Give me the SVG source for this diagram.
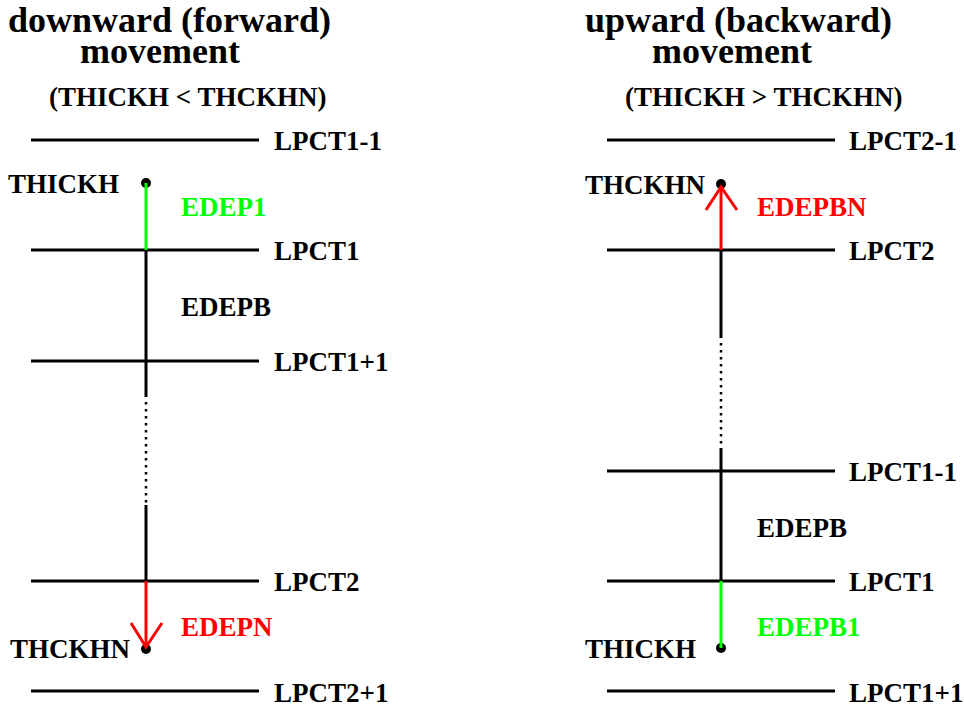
<svg xmlns="http://www.w3.org/2000/svg" width="964" height="708" viewBox="0 0 964 708">
  <style>
    text { font-family: "Liberation Serif", "Times New Roman", serif; font-weight: bold; fill: #000; }
    .title { font-size: 36px; }
    .cond { font-size: 27px; }
    .lbl { font-size: 27px; }
    .green { fill: #00ff00; }
    .red { fill: #ff0000; }
    .layer { stroke: #000; stroke-width: 3; fill: none; }
    .seg { stroke: #000; stroke-width: 3; fill: none; }
    .dots { stroke: #000; stroke-width: 2.5; stroke-dasharray: 2.5 4.5; fill: none; }
    .gseg { stroke: #00ff00; stroke-width: 3; fill: none; }
    .rseg { stroke: #ff0000; stroke-width: 3; fill: none; }
    .dot { fill: #000; }
  </style>

  <!-- Left panel: downward (forward) movement -->
  <g id="title-left">
    <text class="title" x="8" y="32">downward (forward)</text>
    <text class="title" x="80" y="63">movement</text>
    <text class="cond" x="49" y="106">(THICKH &lt; THCKHN)</text>
  </g>

  <g id="layers-left">
    <line class="layer" x1="31" y1="140" x2="259" y2="140"/>
    <line class="layer" x1="31" y1="250" x2="259" y2="250"/>
    <line class="layer" x1="31" y1="361" x2="259" y2="361"/>
    <line class="layer" x1="31" y1="581" x2="259" y2="581"/>
    <line class="layer" x1="31" y1="691" x2="259" y2="691"/>
    <text class="lbl" x="274" y="150">LPCT1-1</text>
    <text class="lbl" x="274" y="260">LPCT1</text>
    <text class="lbl" x="274" y="371">LPCT1+1</text>
    <text class="lbl" x="274" y="591">LPCT2</text>
    <text class="lbl" x="274" y="702">LPCT2+1</text>
  </g>

  <g id="thickh-left">
    <circle class="dot" cx="146" cy="183" r="5"/>
    <text class="lbl" x="8" y="193">THICKH</text>
  </g>
  <g id="thckhn-left">
    <circle class="dot" cx="146" cy="649" r="5"/>
    <text class="lbl" x="10" y="658">THCKHN</text>
  </g>

  <g id="connectors-left">
    <line class="gseg" x1="146" y1="183" x2="146" y2="250"/>
    <line class="seg" x1="146" y1="250" x2="146" y2="397"/>
    <line class="dots" x1="146" y1="402" x2="146" y2="504"/>
    <line class="seg" x1="146" y1="505" x2="146" y2="581"/>
    <line class="rseg" x1="146" y1="581" x2="146" y2="647"/>
    <polyline class="rseg" points="131,623 146,647 162,623"/>
  </g>
  <g id="labels-left">
    <text class="lbl green" x="181" y="216">EDEP1</text>
    <text class="lbl" x="181" y="316">EDEPB</text>
    <text class="lbl red" x="181" y="636">EDEPN</text>
  </g>

  <!-- Right panel: upward (backward) movement -->
  <g id="title-right">
    <text class="title" x="585" y="32">upward (backward)</text>
    <text class="title" x="652" y="63">movement</text>
    <text class="cond" x="625" y="106">(THICKH &gt; THCKHN)</text>
  </g>

  <g id="layers-right">
    <line class="layer" x1="607" y1="140" x2="835" y2="140"/>
    <line class="layer" x1="607" y1="250" x2="835" y2="250"/>
    <line class="layer" x1="607" y1="471" x2="835" y2="471"/>
    <line class="layer" x1="607" y1="581" x2="835" y2="581"/>
    <line class="layer" x1="607" y1="691" x2="835" y2="691"/>
    <text class="lbl" x="849" y="150">LPCT2-1</text>
    <text class="lbl" x="849" y="260">LPCT2</text>
    <text class="lbl" x="849" y="481">LPCT1-1</text>
    <text class="lbl" x="849" y="591">LPCT1</text>
    <text class="lbl" x="849" y="702">LPCT1+1</text>
  </g>

  <g id="thckhn-right">
    <circle class="dot" cx="721" cy="184" r="5"/>
    <text class="lbl" x="585" y="194">THCKHN</text>
  </g>
  <g id="thickh-right">
    <circle class="dot" cx="721" cy="648" r="5"/>
    <text class="lbl" x="585" y="658">THICKH</text>
  </g>

  <g id="connectors-right">
    <line class="rseg" x1="721" y1="250" x2="721" y2="187"/>
    <polyline class="rseg" points="706,210 721,187 737,210"/>
    <line class="seg" x1="721" y1="250" x2="721" y2="338"/>
    <line class="dots" x1="721" y1="343" x2="721" y2="446"/>
    <line class="seg" x1="721" y1="448" x2="721" y2="581"/>
    <line class="gseg" x1="721" y1="581" x2="721" y2="648"/>
  </g>
  <g id="labels-right">
    <text class="lbl red" x="757" y="216">EDEPBN</text>
    <text class="lbl" x="757" y="537">EDEPB</text>
    <text class="lbl green" x="757" y="636">EDEPB1</text>
  </g>
</svg>
